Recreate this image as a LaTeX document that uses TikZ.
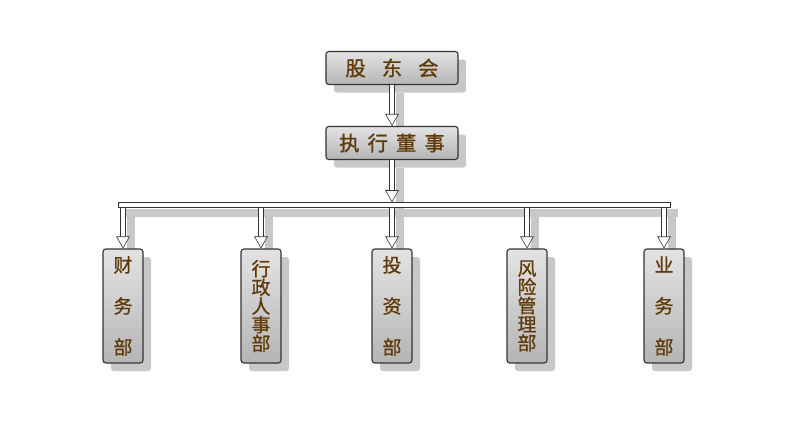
\documentclass[tikz,border=0pt]{standalone}
\usepackage{fontspec}
\newfontfamily\cjk[FakeBold=0.9]{Noto Sans CJK SC}
\usetikzlibrary{arrows.meta,positioning,shadows,backgrounds}
\definecolor{txtbrown}{RGB}{96,58,10}
\definecolor{shadowgray}{RGB}{200,200,200}

\begin{document}
\begin{tikzpicture}[x=0.25mm,y=-0.25mm,
    box/.style={draw=black!80,thick,rounded corners=2pt,top color=gray!22,middle color=white,bottom color=gray!58,
      text=txtbrown,drop shadow={shadow xshift=2mm,shadow yshift=-2mm,fill=shadowgray,opacity=1}},
    topbox/.style={box,minimum width=33mm,minimum height=8.25mm,font=\cjk\fontsize{14.5}{16}\selectfont},
    dept/.style={box,minimum width=10mm,minimum height=28.5mm,align=center,inner sep=1pt,font=\cjk\fontsize{13.5}{15}\selectfont},
    hollow/.style={draw=black!80,double=white,double distance=3.5pt,-{Triangle[open,length=3mm,width=3.4mm,fill=white]}},
    shade line/.style={draw=shadowgray,line width=6pt,transform canvas={shift={(2mm,-2mm)}}}]
  \useasboundingbox (0,0) rectangle (790,439);

  \node[topbox] (gd) at (392,68) {股\hspace{4mm}东\hspace{4mm}会};
  \node[topbox] (zx) at (392,143) {执\hspace{2mm}行\hspace{2mm}董\hspace{2mm}事};
  \node[draw=black!80,fill=white,minimum width=138mm,minimum height=1.25mm,inner sep=0pt] (bus) at (394,205) {};

  \node[dept] (cw) at (123,306) {财\\[5mm]务\\[5mm]部};
  \node[dept] (xz) at (261,306) {行\\[-0.6mm]政\\[-0.6mm]人\\[-0.6mm]事\\[-0.6mm]部};
  \node[dept] (tz) at (392,306) {投\\[5mm]资\\[5mm]部};
  \node[dept] (fx) at (527,306) {风\\[-0.6mm]险\\[-0.6mm]管\\[-0.6mm]理\\[-0.6mm]部};
  \node[dept] (yw) at (664,306) {业\\[5mm]务\\[5mm]部};

  % connectors, their shadows go behind everything
  \begin{scope}[on background layer]
    \draw[shade line] (gd.south) -- (zx.north);
    \draw[shade line] (zx.south) -- (zx.south |- bus.north);
    \draw[shade line,line width=5pt] (bus.west) -- (bus.east);
    \foreach \d in {cw,xz,tz,fx,yw}
      \draw[shade line] (bus.south -| \d.north) -- (\d.north);
  \end{scope}

  \draw[hollow] (gd.south) -- (zx.north);
  \draw[hollow] (zx.south) -- (zx.south |- bus.north);
  \foreach \d in {cw,xz,tz,fx,yw}
    \draw[hollow] (bus.south -| \d.north) -- (\d.north);
\end{tikzpicture}
\end{document}
